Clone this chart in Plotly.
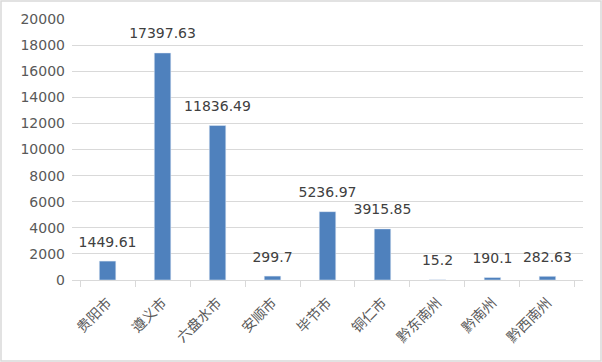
import plotly.graph_objects as go

categories = ["贵阳市", "遵义市", "六盘水市", "安顺市", "毕节市", "铜仁市", "黔东南州", "黔南州", "黔西南州"]
values = [1449.61, 17397.63, 11836.49, 299.7, 5236.97, 3915.85, 15.2, 190.1, 282.63]
labels = ["1449.61", "17397.63", "11836.49", "299.7", "5236.97", "3915.85", "15.2", "190.1", "282.63"]
y_ticks = [0, 2000, 4000, 6000, 8000, 10000, 12000, 14000, 16000, 18000, 20000]

fig = go.Figure()
fig.add_trace(go.Bar(
    x=categories, y=values, marker=dict(color="#4f81bd"), hoverinfo="x+y",
))
fig.add_trace(go.Scatter(
    x=categories, y=values, text=labels, mode="markers+text", textposition="top center",
    marker=dict(size=16, color="rgba(0,0,0,0)"),
    textfont=dict(family="DejaVu Sans", size=14, color="#404040"),
    cliponaxis=False, hoverinfo="skip",
))
fig.update_layout(
    width=602, height=362,
    margin=dict(l=72, r=19, t=19, b=82, autoexpand=False),
    paper_bgcolor="white", plot_bgcolor="white",
    bargap=0.7, showlegend=False,
    shapes=[dict(type="rect", xref="x domain", yref="y domain",
                 x0=-71/511, x1=1+18/511, y0=-81/261, y1=1+18/261,
                 line=dict(color="#d9d9d9", width=1.5))],
)
fig.update_xaxes(
    tickangle=-45, tickson="boundaries", ticks="outside", ticklen=6, tickcolor="#d9d9d9",
    showline=True, linecolor="#d9d9d9", linewidth=1, automargin=False, ticklabelstandoff=8,
    tickfont=dict(family="Noto Sans CJK SC", size=14, color="#595959"),
)
fig.update_yaxes(
    range=[0, 20000], tickvals=y_ticks, ticktext=[str(v) for v in y_ticks],
    showgrid=True, gridcolor="#d9d9d9", gridwidth=1, automargin=False,
    zeroline=False, showline=False, ticks="", ticklabelstandoff=6,
    tickfont=dict(family="DejaVu Sans", size=14, color="#595959"),
)
fig.write_html("out.html", post_script="document.body.style.margin='0';",
               config={"displayModeBar": False})
